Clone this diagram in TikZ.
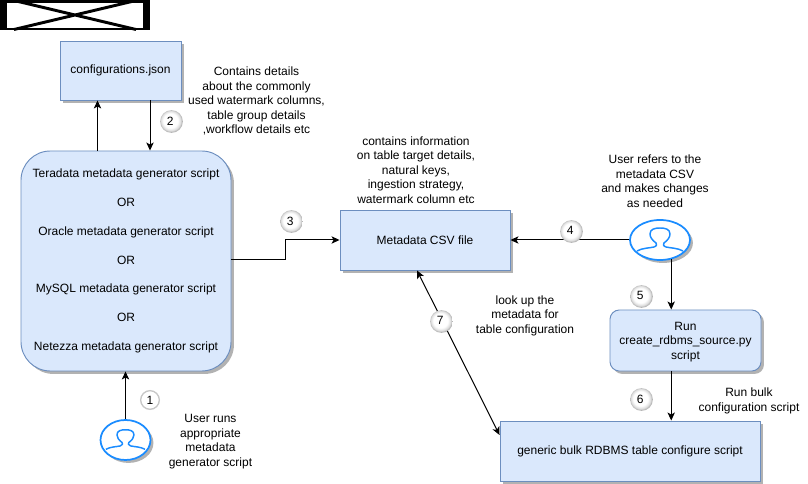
\documentclass[tikz,border=0pt]{standalone}
\usepackage{fontspec}
\setmainfont{Liberation Sans}
\usetikzlibrary{arrows.meta,shapes.geometric,shadows,calc}
\definecolor{boxfill}{HTML}{DAE8FC}
\definecolor{boxline}{HTML}{6C8EBF}
\definecolor{userblue}{HTML}{1A8CFF}
\pgfdeclareradialshading{bub}{\pgfpoint{-3bp}{3bp}}{color(0bp)=(white);color(16bp)=(white);color(22bp)=(black!14);color(27bp)=(black!42);color(50bp)=(black!42)}
\tikzset{
  x=0.75pt,y=-0.75pt,
  txt/.style={font=\fontsize{9}{10.9}\selectfont,align=center,inner sep=0pt,text=black},
  shad/.style={drop shadow={shadow xshift=2.2pt,shadow yshift=-2.2pt,fill=black!30,opacity=1}},
  bluebox/.style={draw=boxline,fill=boxfill,line width=0.7pt,shad,txt,minimum width=#1,inner sep=0pt},
  usr/.style={ellipse,draw=userblue,fill=white,line width=1.3pt,shad,inner sep=0pt,minimum width=#1,minimum height=30pt},
  conn/.style={draw=black,line width=0.75pt,-{Stealth[length=6pt,width=5.5pt,inset=1.5pt]}},
  bubble/.style={circle,shading=bub,minimum size=17pt,inner sep=0pt,font=\fontsize{9}{10}\selectfont,text=black},
  plainbubble/.style={circle,draw=black!22,line width=1pt,fill=white,minimum size=14pt,inner sep=0pt,font=\fontsize{9}{10}\selectfont,text=black},
}
\newcommand{\usericon}[1]{%
  \begin{scope}[shift={(#1)}]
    \draw[userblue,line width=1.1pt,line join=round]
      (-23,11) .. controls (-18,8) and (-10,8) .. (-6,7)
      .. controls (-3,6) and (-3,4) .. (-4,3)
      .. controls (-8,0) and (-10,-3) .. (-10,-6)
      .. controls (-10,-11) and (-5,-12) .. (0,-12)
      .. controls (5,-12) and (10,-11) .. (10,-6)
      .. controls (10,-3) and (8,0) .. (4,3)
      .. controls (3,4) and (3,6) .. (6,7)
      .. controls (10,8) and (18,8) .. (23,11);
  \end{scope}}
\begin{document}
\begin{tikzpicture}
\useasboundingbox (0,0) rectangle (808,484);
\fill[white] (0,0) rectangle (808,484);
% broken image placeholder
\fill[black] (0,0) rectangle (150,30);
\fill[white] (7,3) rectangle (143,28);
\draw[black,line width=2.2pt] (14,0.5) -- (136,29.5) (136,0.5) -- (14,29.5);

\node[bluebox=90.75pt,minimum height=44.25pt] (cfg) at (120.5,70.5) {configurations.json};
\node[bluebox=157.5pt,minimum height=165pt,rounded corners=22pt,font=\fontsize{9}{21.6}\selectfont] (main) at (126,261)
 {Teradata metadata generator script\\OR\\Oracle metadata generator script\\OR\\MySQL metadata generator script\\OR\\Netezza metadata generator script};
\node[bluebox=127.5pt,minimum height=45pt] (csv) at (425,240) {Metadata CSV file};
\node[bluebox=113.25pt,minimum height=45.75pt,rounded corners=7pt,text depth=-3pt] (run) at (685.5,340.5) {Run\\create\_rdbms\_source.py\\script};
\node[bluebox=195pt,minimum height=45pt] (gen) at (630,451) {generic bulk RDBMS table configure script};

\node[usr=37.5pt] (u1) at (125.5,440) {};
\begin{scope}[scale=0.85]\usericon{147.6,517.6}\end{scope}
\node[usr=45pt] (u2) at (660,240) {};
\usericon{660,240}

\draw[conn] (main.north -| 97.5,0) -- (cfg.south -| 97.5,0);
\draw[conn] (cfg.south -| 150,0) -- (main.north -| 150,0);
\draw[conn] (u1.north) -- (main.south -| u1.north);
\draw[conn] (main.east |- 0,260) -- (285,260) -- (285,240) -- (csv.west);
\draw[conn] (u2.west) -- (csv.east |- u2.west);
\draw[conn] (u2.-60) -- (run.north -| u2.-60);
\draw[conn] (run.south -| u2.-60) -- (gen.north -| u2.-60);
\draw[conn,{Stealth[length=6pt,width=5.5pt,inset=1.5pt]}-{Stealth[length=6pt,width=5.5pt,inset=1.5pt]}] (csv.south -| 417,0) -- (gen.west |- 0,435);

\node[plainbubble] (n1) at (150,400) {1};
\node[bubble] (n2) at (171.5,121.5) {\raisebox{1pt}{\hspace{-2pt}2}};
\node[bubble] (n3) at (291.5,221.5) {\raisebox{1pt}{\hspace{-2pt}3}};
\node[bubble] (n4) at (571.5,231.5) {\raisebox{1pt}{\hspace{-2pt}4}};
\node[bubble] (n5) at (641.5,296.5) {\raisebox{1pt}{\hspace{-2pt}5}};
\node[bubble] (n6) at (641.5,399.5) {\raisebox{1pt}{\hspace{-2pt}6}};
\node[bubble] (n7) at (441.5,321.5) {\raisebox{1pt}{\hspace{-2pt}7}};

\node[txt] (t2) at (256.5,101) {Contains details\\about the commonly\\used watermark columns,\\table group details\\,workflow details etc};
\node[txt] (t3) at (416,170) {contains information\\on table target details,\\natural keys,\\ingestion strategy,\\watermark column etc};
\node[txt] (t4) at (655,181) {User refers to the\\metadata CSV\\and makes changes\\as needed};
\node[txt] (t1) at (210.5,441.5) {User runs\\appropriate\\metadata\\generator script};
\node[txt] (t7) at (525,315.5) {look up the\\metadata for\\table configuration};
\node[txt] (t6) at (749,401) {Run bulk\\configuration script};
\end{tikzpicture}
\end{document}
